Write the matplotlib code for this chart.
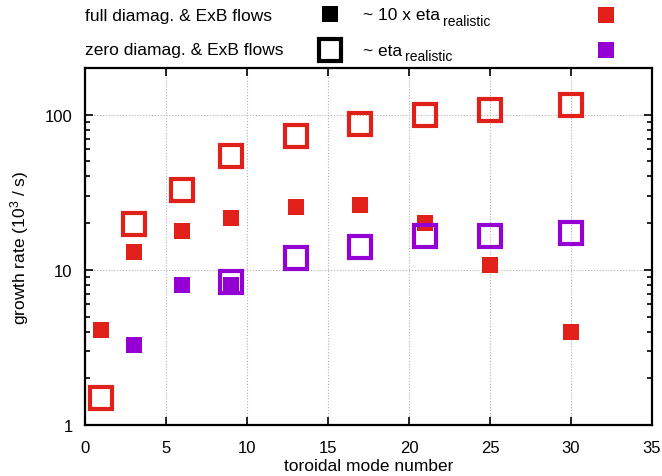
import matplotlib
matplotlib.use("Agg")
import matplotlib.pyplot as plt
from matplotlib.lines import Line2D
from matplotlib.ticker import FixedLocator, LogLocator, NullFormatter

plt.rcParams["font.family"] = ["Liberation Sans", "DejaVu Sans"]
plt.rcParams["mathtext.fontset"] = "custom"
plt.rcParams["mathtext.rm"] = "Liberation Sans"
plt.rcParams["mathtext.it"] = "Liberation Sans"

RED = "#e2201a"
PURPLE = "#9400d3"

# toroidal mode numbers and growth rates (10^3 / s)
n_red_full = [1, 3, 6, 9, 13, 17, 21, 25, 30]
gr_red_full = [4.1, 13.0, 17.8, 21.7, 25.3, 26.1, 20.1, 10.8, 3.95]

n_red_zero = [1, 3, 6, 9, 13, 17, 21, 25, 30]
gr_red_zero = [1.5, 19.8, 32.5, 54, 72.5, 87, 100, 107, 115]

n_pur_full = [3, 6, 9]
gr_pur_full = [3.3, 7.95, 7.95]

n_pur_zero = [9, 13, 17, 21, 25, 30]
gr_pur_zero = [8.35, 11.9, 14.0, 16.5, 16.6, 17.3]

x_ticks = [0, 5, 10, 15, 20, 25, 30, 35]
y_ticks = [1, 10, 100]

W, H = 662, 477
fig = plt.figure(figsize=(W / 100, H / 100), dpi=100)
ax = fig.add_axes([85 / W, 1 - 426 / H, (652 - 85) / W, (426 - 69) / H])

filled = dict(marker="s", linestyle="none", ms=12, mew=0)
hollow = dict(marker="s", linestyle="none", ms=16.3, mew=3.0,
              fillstyle="none")

ax.plot(n_red_full, gr_red_full, color=RED, zorder=3, **filled)
ax.plot(n_pur_full, gr_pur_full, color=PURPLE, zorder=3, **filled)
ax.plot(n_red_zero, gr_red_zero, color=RED, zorder=4, **hollow)
ax.plot(n_pur_zero, gr_pur_zero, color=PURPLE, zorder=4, **hollow)

ax.set_yscale("log")
ax.set_xlim(0, 35)
ax.set_ylim(1, 200)
ax.xaxis.set_major_locator(FixedLocator(x_ticks))
ax.set_xticklabels([str(t) for t in x_ticks])
ax.yaxis.set_major_locator(FixedLocator(y_ticks))
ax.set_yticklabels([str(t) for t in y_ticks])
ax.yaxis.set_minor_locator(LogLocator(base=10, subs=range(2, 10)))
ax.yaxis.set_minor_formatter(NullFormatter())

ax.tick_params(which="both", direction="in", top=True, right=True,
               labelsize=12, width=1.2, colors="black")
ax.tick_params(which="major", length=6)
ax.tick_params(which="minor", length=3.5)
ax.tick_params(axis="x", which="major", pad=11)
ax.tick_params(axis="y", which="major", pad=9)
for s in ax.spines.values():
    s.set_linewidth(1.6)

ax.grid(True, which="major", linestyle=(0, (1, 1.6)), color="#b0b0b0",
        linewidth=0.8)
ax.set_axisbelow(True)

ax.set_xlabel("toroidal mode number", fontsize=12.5, labelpad=2)
ax.set_ylabel("growth rate (10$^{3}$ / s)", fontsize=12.5, labelpad=10)

# key above the plot frame
def fx(px):
    return px / W


def fy(py):
    return 1 - py / H


fig.text(fx(85), fy(16), "full diamag. & ExB flows", fontsize=12.5,
         va="center", ha="left")
fig.text(fx(85), fy(51), "zero diamag. & ExB flows", fontsize=12.5,
         va="center", ha="left")
fig.text(fx(363), fy(16), "~ 10 x eta", fontsize=12.5,
         va="center", ha="left")
fig.text(fx(443), fy(22), "realistic", fontsize=10,
         va="center", ha="left")
fig.text(fx(363), fy(51), "~ eta", fontsize=12.5,
         va="center", ha="left")
fig.text(fx(405), fy(57), "realistic", fontsize=10,
         va="center", ha="left")

fig.add_artist(Line2D([fx(329.5)], [fy(15)], transform=fig.transFigure,
                      color="black", **filled))
fig.add_artist(Line2D([fx(329.5)], [fy(51)], transform=fig.transFigure,
                      color="black", **hollow))
fig.add_artist(Line2D([fx(606)], [fy(16)], transform=fig.transFigure,
                      color=RED, **filled))
fig.add_artist(Line2D([fx(606)], [fy(51)], transform=fig.transFigure,
                      color=PURPLE, **filled))

fig.savefig("out.png", dpi=100)
